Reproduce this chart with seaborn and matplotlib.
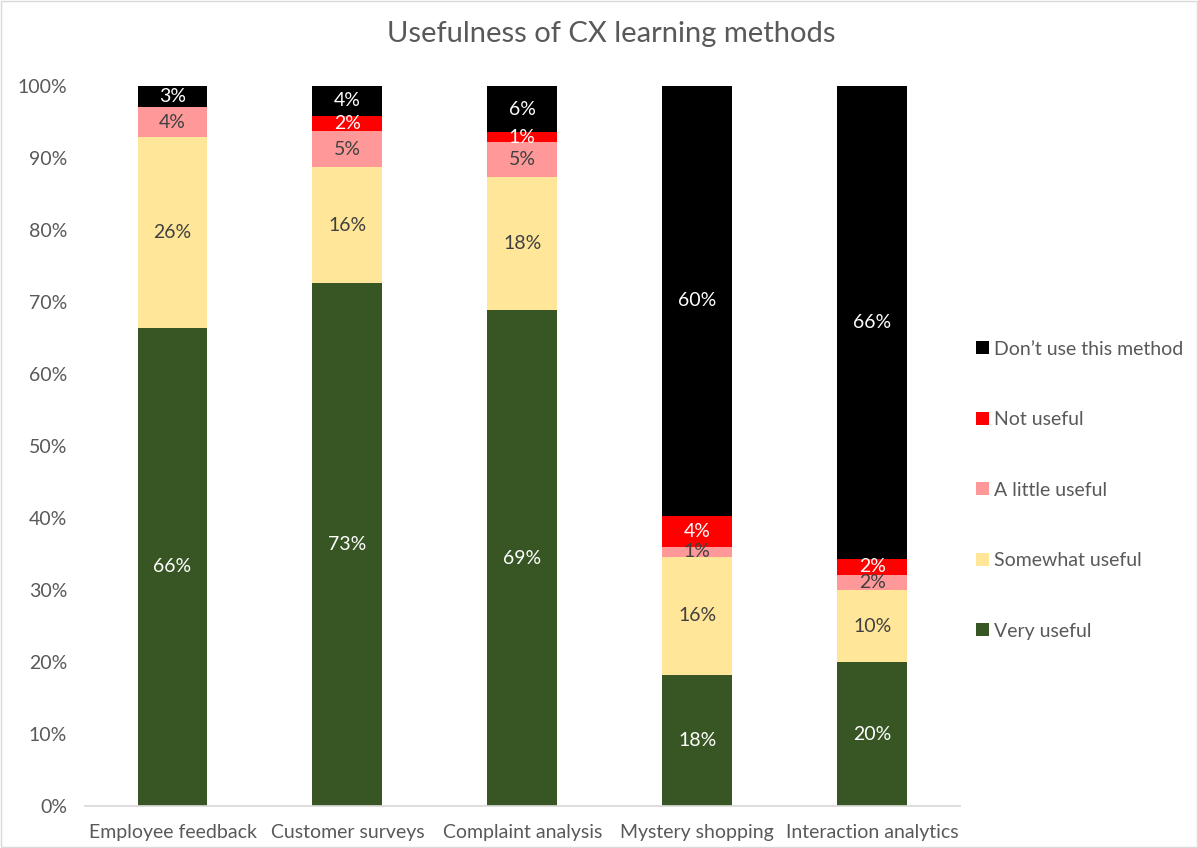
import numpy as np
import pandas as pd
import matplotlib.pyplot as plt
import seaborn as sns
from matplotlib.patches import Patch

# values (% of respondents)
methods = ["Employee feedback", "Customer surveys", "Complaint analysis",
           "Mystery shopping", "Interaction analytics"]
very_useful = [66.4, 72.6, 68.9, 18.2, 20.0]
somewhat_useful = [26.5, 16.2, 18.5, 16.4, 10.0]
little_useful = [4.2, 4.9, 4.8, 1.4, 2.1]
not_useful = [0.0, 2.2, 1.4, 4.3, 2.2]
dont_use = [2.9, 4.1, 6.4, 59.7, 65.7]

levels = ["Very useful", "Somewhat useful", "A little useful", "Not useful",
          "Don\u2019t use this method"]
colors = ["#375623", "#FFE699", "#FF9999", "#FF0000", "#000000"]
text_colors = ["white", "#404040", "#404040", "white", "white"]

sns.set_theme(style="white")
plt.rcParams["font.family"] = ["Lato", "DejaVu Sans"]

series = [very_useful, somewhat_useful, little_useful, not_useful, dont_use]
df = pd.DataFrame({"method": methods})
for name, vals in zip(levels, series):
    df[name] = vals
cum = df[levels].cumsum(axis=1)

fig = plt.figure(figsize=(11.98, 8.48), dpi=100)
ax = fig.add_axes([0.071, 0.0495, 0.730, 0.849])

# draw cumulative totals from the top layer down so each segment shows
for i in range(len(levels) - 1, -1, -1):
    sns.barplot(x=df["method"], y=cum[levels[i]], color=colors[i], width=0.4,
                saturation=1, ax=ax, edgecolor="none")

for i, name in enumerate(levels):
    for j in range(len(methods)):
        v = df[name][j]
        if v < 0.5:
            continue
        mid = cum[name][j] - v / 2
        ax.text(j, mid, f"{v:.0f}%", ha="center", va="center",
                fontsize=14, color=text_colors[i])

ax.set_ylim(0, 100)
ax.set_xlim(-0.5, 4.5)
ax.set_yticks(np.arange(0, 101, 10))
ax.set_yticklabels([f"{t}%" for t in range(0, 101, 10)])
ax.set_xlabel("")
ax.set_ylabel("")
ax.tick_params(axis="both", labelsize=14, colors="#595959", length=0)
ax.tick_params(axis="y", pad=13)
ax.tick_params(axis="x", pad=13)
for s in ["top", "right", "left"]:
    ax.spines[s].set_visible(False)
ax.spines["bottom"].set_color("#D9D9D9")

fig.suptitle("Usefulness of CX learning methods", x=0.51, y=0.975,
             fontsize=21, color="#595959")

handles = [Patch(facecolor=colors[i], edgecolor="none") for i in range(len(levels) - 1, -1, -1)]
labels = levels[::-1]
fig.legend(handles, labels, loc="center left", bbox_to_anchor=(0.8, 0.422),
           frameon=False, fontsize=14, labelcolor="#595959",
           handlelength=0.65, handleheight=0.65, handletextpad=0.3,
           labelspacing=2.75)

fig.patches.append(plt.Rectangle((0.001, 0.001), 0.998, 0.998, transform=fig.transFigure,
                                 fill=False, edgecolor="#D9D9D9", linewidth=1))

plt.savefig("out.png", dpi=100)
